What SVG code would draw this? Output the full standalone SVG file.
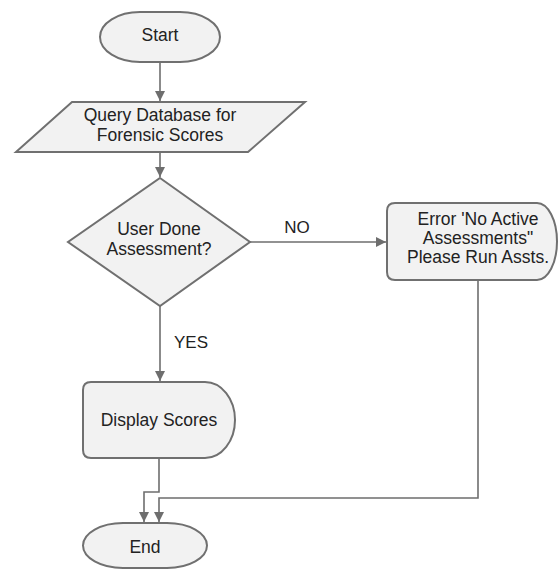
<svg xmlns="http://www.w3.org/2000/svg" width="558" height="570" viewBox="0 0 558 570">
  <style>
    .shape { fill: #f2f2f2; stroke: #707070; stroke-width: 2; }
    .label { font-family: "Liberation Sans", Arial, sans-serif; font-size: 17.5px; fill: #222; text-anchor: middle; }
    .edge { fill: none; stroke: #6e6e6e; stroke-width: 1.6; marker-end: url(#arrow); }
    .edge-label { font-family: "Liberation Sans", Arial, sans-serif; font-size: 17px; fill: #222; text-anchor: middle; }
  </style>
  <defs>
    <marker id="arrow" viewBox="0 0 10 10" refX="10" refY="5" markerWidth="10" markerHeight="10" markerUnits="userSpaceOnUse" orient="auto">
      <path d="M0,0 L10,5 L0,10 Z" fill="#6e6e6e"/>
    </marker>
  </defs>
  <rect width="558" height="570" fill="#ffffff"/>

  <g id="connectors">
    <path class="edge" d="M160,62 V101"/>
    <path class="edge" d="M160,152 V177"/>
    <path class="edge" d="M250,242 H386"/>
    <path class="edge" d="M160,306 V381"/>
    <path class="edge" d="M159,458 V492 H144 V522"/>
    <path class="edge" d="M478,280 V498 H159 V522"/>
    <text class="edge-label" x="297" y="233">NO</text>
    <text class="edge-label" x="191" y="348">YES</text>
  </g>

  <g id="start">
    <rect class="shape" x="100" y="12" width="120" height="50" rx="40" ry="25"/>
    <text class="label" x="160" y="41">Start</text>
  </g>

  <g id="query">
    <polygon class="shape" points="72,102 305,102 248,152 16,152"/>
    <text class="label" x="160" y="121">Query Database for</text>
    <text class="label" x="160" y="141">Forensic Scores</text>
  </g>

  <g id="decision">
    <polygon class="shape" points="160,178 250,242 160,306 68,242"/>
    <text class="label" x="159" y="235">User Done</text>
    <text class="label" x="159" y="255">Assessment?</text>
  </g>

  <g id="error">
    <path class="shape" d="M395,203 H537 A20,38.5 0 0 1 537,280 H395 Q387,280 387,272 V211 Q387,203 395,203 Z"/>
    <text class="label" x="478" y="225">Error 'No Active</text>
    <text class="label" x="478" y="244">Assessments"</text>
    <text class="label" x="478" y="263">Please Run Assts.</text>
  </g>

  <g id="display">
    <path class="shape" d="M91,382 H205 A30,38 0 0 1 205,458 H91 Q83,458 83,450 V390 Q83,382 91,382 Z"/>
    <text class="label" x="159" y="426">Display Scores</text>
  </g>

  <g id="end">
    <rect class="shape" x="83" y="523" width="124" height="45" rx="40" ry="22.5"/>
    <text class="label" x="145" y="553">End</text>
  </g>
</svg>
